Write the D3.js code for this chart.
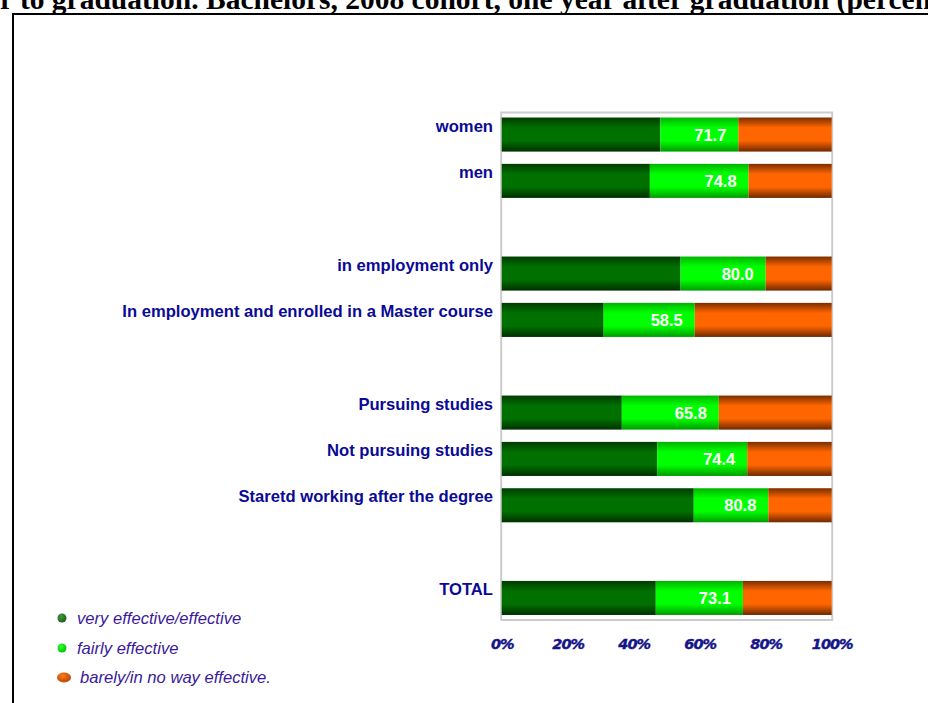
<!DOCTYPE html>
<html>
<head>
<meta charset="utf-8">
<script src="https://cdn.jsdelivr.net/npm/d3@7"></script>
<style>
  html, body { margin: 0; padding: 0; background: #fff; overflow: hidden; }
  svg { display: block; }
</style>
</head>
<body>
<svg id="chart" width="928" height="703"></svg>
<script>
// Degree effectiveness by situation, Bachelors 2008 cohort, one year after graduation
const categories = [
  "women",
  "men",
  "in employment only",
  "In employment and enrolled in a Master course",
  "Pursuing studies",
  "Not pursuing studies",
  "Staretd working after the degree",
  "TOTAL"
];
// Row slot of each category (blank slots separate the groups)
const rowSlots = [0, 1, 3, 4, 6, 7, 8, 10];
const slotCount = 11;

// "very effective/effective" share (%)
const veryEffective = [48.1, 44.9, 54.2, 30.9, 36.4, 47.1, 58.2, 46.7];
// very effective + fairly effective (%), the labelled value
const effectiveTotal = [71.7, 74.8, 80.0, 58.5, 65.8, 74.4, 80.8, 73.1];
const fullScale = 100;

const tickValues = [0, 20, 40, 60, 80, 100];
const legendLabels = ["very effective/effective", "fairly effective", "barely/in no way effective."];
const titleText = "Effectiveness of the degree by working condition prior to graduation. Bachelors, 2008 cohort, one year after graduation (percentages)";

const svg = d3.select("#chart");

// Gradients giving the bars a rounded, cylinder-like shading
const defs = svg.append("defs");
const palettes = [
  { id: "gDark",   edgeTop: "#003c00", mid: "#007000", edgeBot: "#003000" },
  { id: "gLight",  edgeTop: "#00b400", mid: "#00ff00", edgeBot: "#009c00" },
  { id: "gOrange", edgeTop: "#7a2e00", mid: "#ff6600", edgeBot: "#6e2800" }
];
palettes.forEach(p => {
  const g = defs.append("linearGradient").attr("id", p.id)
    .attr("x1", 0).attr("y1", 0).attr("x2", 0).attr("y2", 1);
  g.append("stop").attr("offset", "0%").attr("stop-color", p.edgeTop);
  g.append("stop").attr("offset", "30%").attr("stop-color", p.mid);
  g.append("stop").attr("offset", "68%").attr("stop-color", p.mid);
  g.append("stop").attr("offset", "100%").attr("stop-color", p.edgeBot);
});
const legendPalettes = [
  { id: "lDark",   hi: "#3f9a3f", lo: "#1c5a1c" },
  { id: "lLight",  hi: "#33ff33", lo: "#00c000" },
  { id: "lOrange", hi: "#ff7a1a", lo: "#b04400" }
];
legendPalettes.forEach(p => {
  const g = defs.append("radialGradient").attr("id", p.id)
    .attr("cx", "40%").attr("cy", "35%").attr("r", "70%");
  g.append("stop").attr("offset", "0%").attr("stop-color", p.hi);
  g.append("stop").attr("offset", "100%").attr("stop-color", p.lo);
});

// Title (long, runs past both edges of the page)
const title = svg.append("text")
  .attr("y", 9)
  .attr("font-family", "'Liberation Serif', 'Times New Roman', serif")
  .attr("font-weight", "bold")
  .attr("font-size", 29.5)
  .attr("fill", "#000")
  .text(titleText);
const cut = titleText.indexOf("r to graduation");
title.attr("x", -title.node().getSubStringLength(0, cut));

// Outer frame
svg.append("rect")
  .attr("x", 13).attr("y", 14)
  .attr("width", 940).attr("height", 720)
  .attr("fill", "none").attr("stroke", "#000").attr("stroke-width", 2);

// Scales
const x = d3.scaleLinear().domain([0, fullScale]).range([501.7, 831.7]);
const y = d3.scaleBand().domain(d3.range(slotCount)).range([111.5, 621]).paddingInner(0.265).paddingOuter(0.13);

// Plot frame
svg.append("rect")
  .attr("x", x(0) - 0.5).attr("y", 112.5)
  .attr("width", x(fullScale) - x(0) + 1).attr("height", 620 - 112.5)
  .attr("fill", "none").attr("stroke", "#cccccc").attr("stroke-width", 2);

const rows = categories.map((c, i) => ({
  name: c,
  slot: rowSlots[i],
  very: veryEffective[i],
  total: effectiveTotal[i]
}));

const bars = svg.append("g");
const rowG = bars.selectAll("g").data(rows).join("g");

rowG.append("rect")
  .attr("x", x(0)).attr("y", d => y(d.slot))
  .attr("width", d => x(d.very) - x(0)).attr("height", y.bandwidth())
  .attr("fill", "url(#gDark)");
rowG.append("rect")
  .attr("x", d => x(d.very)).attr("y", d => y(d.slot))
  .attr("width", d => x(d.total) - x(d.very)).attr("height", y.bandwidth())
  .attr("fill", "url(#gLight)");
rowG.append("rect")
  .attr("x", d => x(d.total)).attr("y", d => y(d.slot))
  .attr("width", d => x(fullScale) - x(d.total)).attr("height", y.bandwidth())
  .attr("fill", "url(#gOrange)");

// Value labels inside the fairly-effective segment
rowG.append("text")
  .attr("x", d => x(d.total) - 28)
  .attr("y", d => y(d.slot) + y.bandwidth() / 2 + 6)
  .attr("text-anchor", "middle")
  .attr("font-family", "Arial, 'Liberation Sans', sans-serif")
  .attr("font-weight", "bold")
  .attr("font-size", 16.5)
  .attr("fill", "#fff")
  .text(d => d.total.toFixed(1));

// Category labels
rowG.append("text")
  .attr("x", 493)
  .attr("y", d => y(d.slot) + y.bandwidth() / 2 - 3)
  .attr("text-anchor", "end")
  .attr("font-family", "Arial, 'Liberation Sans', sans-serif")
  .attr("font-weight", "bold")
  .attr("font-size", 16.6)
  .attr("fill", "#0a0a96")
  .text(d => d.name);

// Percentage axis
const axis = svg.append("g")
  .attr("transform", "translate(0,649)")
  .call(d3.axisBottom(x).tickValues(tickValues).tickFormat(d => d + "%").tickSize(0).tickPadding(0));
axis.select(".domain").remove();
axis.selectAll("text")
  .attr("dy", 0)
  .attr("font-family", "'DejaVu Sans', Verdana, sans-serif")
  .attr("font-weight", "bold")
  .attr("font-style", "italic")
  .attr("font-size", 14.5)
  .attr("letter-spacing", -1)
  .attr("fill", "#14148a")
  .attr("stroke", "#14148a")
  .attr("stroke-width", 0.4);

// Legend
const legend = svg.append("g");
const legendY = [618, 648, 677.5];
const legendFill = ["url(#lDark)", "url(#lLight)", "url(#lOrange)"];
const legendMarkX = [62, 62, 64];
const legendMarkRx = [4.5, 4.5, 7];
const legendTextX = [77, 77, 80];
legendLabels.forEach((lbl, i) => {
  legend.append("ellipse")
    .attr("cx", legendMarkX[i]).attr("cy", legendY[i])
    .attr("rx", legendMarkRx[i]).attr("ry", i === 2 ? 5 : 4.5)
    .attr("fill", legendFill[i]);
  legend.append("text")
    .attr("x", legendTextX[i]).attr("y", legendY[i] + 5.5)
    .attr("font-family", "Arial, 'Liberation Sans', sans-serif")
    .attr("font-style", "italic")
    .attr("font-size", 16.6)
    .attr("fill", "#3a1a9a")
    .text(lbl);
});
</script>
</body>
</html>
